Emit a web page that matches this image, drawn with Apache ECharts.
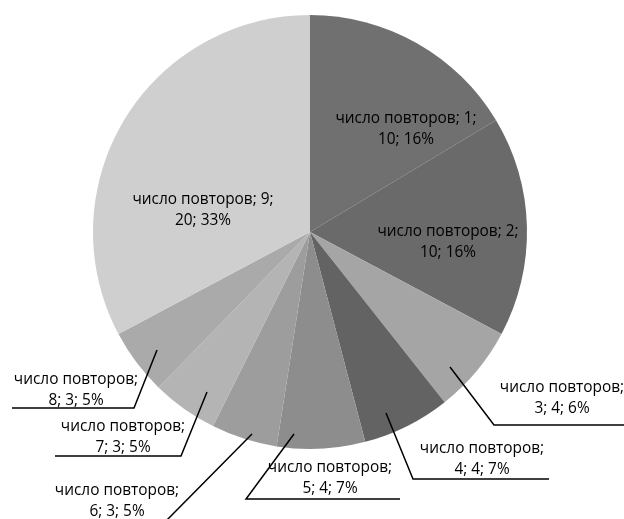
<!DOCTYPE html>
<html>
<head>
<meta charset="utf-8">
<script src="https://cdn.jsdelivr.net/npm/echarts@6/dist/echarts.min.js"></script>
<style>
html,body{margin:0;padding:0;background:#fff;}
#chart{width:624px;height:519px;}
</style>
</head>
<body>
<div id="chart"></div>
<script>
// ---- data ----
var seriesName = 'число повторов';
var categories = ['1', '2', '3', '4', '5', '6', '7', '8', '9'];
var values = [10, 10, 4, 4, 4, 3, 3, 3, 20];
var percentLabels = ['16%', '16%', '6%', '7%', '7%', '5%', '5%', '5%', '33%'];

// ---- styling / layout (not data) ----
var colors = ['#707070', '#6a6a6a', '#a5a5a5', '#636363', '#8d8d8d', '#9d9d9d', '#b4b4b4', '#aaaaaa', '#cfcfcf'];
var insideLabel = [true, true, false, false, false, false, false, false, true];
// label centre + leader line (start, elbow, end of underline)
var labelPos = [
  {x: 406, y: 129},
  {x: 448, y: 242},
  {x: 562, y: 398, line: [[450, 367], [494, 425], [624, 425]]},
  {x: 482, y: 459, line: [[386, 413], [413, 479], [549, 479]]},
  {x: 330, y: 478, line: [[294, 434], [246, 499], [400, 499]]},
  {x: 117, y: 501, line: [[252, 434], [165, 522], [60, 522]]},
  {x: 123, y: 437, line: [[207, 392], [181, 456], [55, 456]]},
  {x: 76,  y: 390, line: [[157, 350], [134, 408], [12, 408]]},
  {x: 203, y: 210}
];

var chart = echarts.init(document.getElementById('chart'), null, {renderer: 'canvas'});

var sliceData = categories.map(function (c, i) {
  return {name: c, value: values[i], itemStyle: {color: colors[i]}};
});
var labelData = categories.map(function (c, i) {
  return {
    name: c,
    value: values[i],
    label: {position: insideLabel[i] ? 'inside' : 'outside'},
    labelLine: {show: !insideLabel[i]}
  };
});

var common = {
  type: 'pie',
  name: seriesName,
  center: [310, 232],
  radius: 217,
  startAngle: 90,
  clockwise: true,
  avoidLabelOverlap: false,
  emphasis: {disabled: true},
  silent: true
};

chart.setOption({
  animation: false,
  backgroundColor: '#fff',
  series: [
    Object.assign({}, common, {
      z: 1,
      itemStyle: {borderWidth: 0},
      label: {show: false},
      labelLine: {show: false},
      data: sliceData
    }),
    Object.assign({}, common, {
      z: 5,
      itemStyle: {color: 'rgba(0,0,0,0)', borderWidth: 0},
      label: {
        show: true,
        color: '#000',
        fontFamily: 'Open Sans',
        fontSize: 15.4,
        lineHeight: 21,
        align: 'center',
        formatter: function (p) {
          var i = p.dataIndex;
          if (insideLabel[i]) {
            return seriesName + '; ' + categories[i] + ';\n' + values[i] + '; ' + percentLabels[i];
          }
          return seriesName + ';\n' + categories[i] + '; ' + values[i] + '; ' + percentLabels[i];
        }
      },
      labelLine: {
        show: true,
        showAbove: true,
        lineStyle: {color: '#000', width: 1.5}
      },
      labelLayout: function (p) {
        var lp = labelPos[p.dataIndex];
        var r = {x: lp.x, y: lp.y, align: 'center', verticalAlign: 'middle'};
        if (lp.line) r.labelLinePoints = lp.line;
        return r;
      },
      data: labelData
    })
  ]
});
</script>
</body>
</html>
